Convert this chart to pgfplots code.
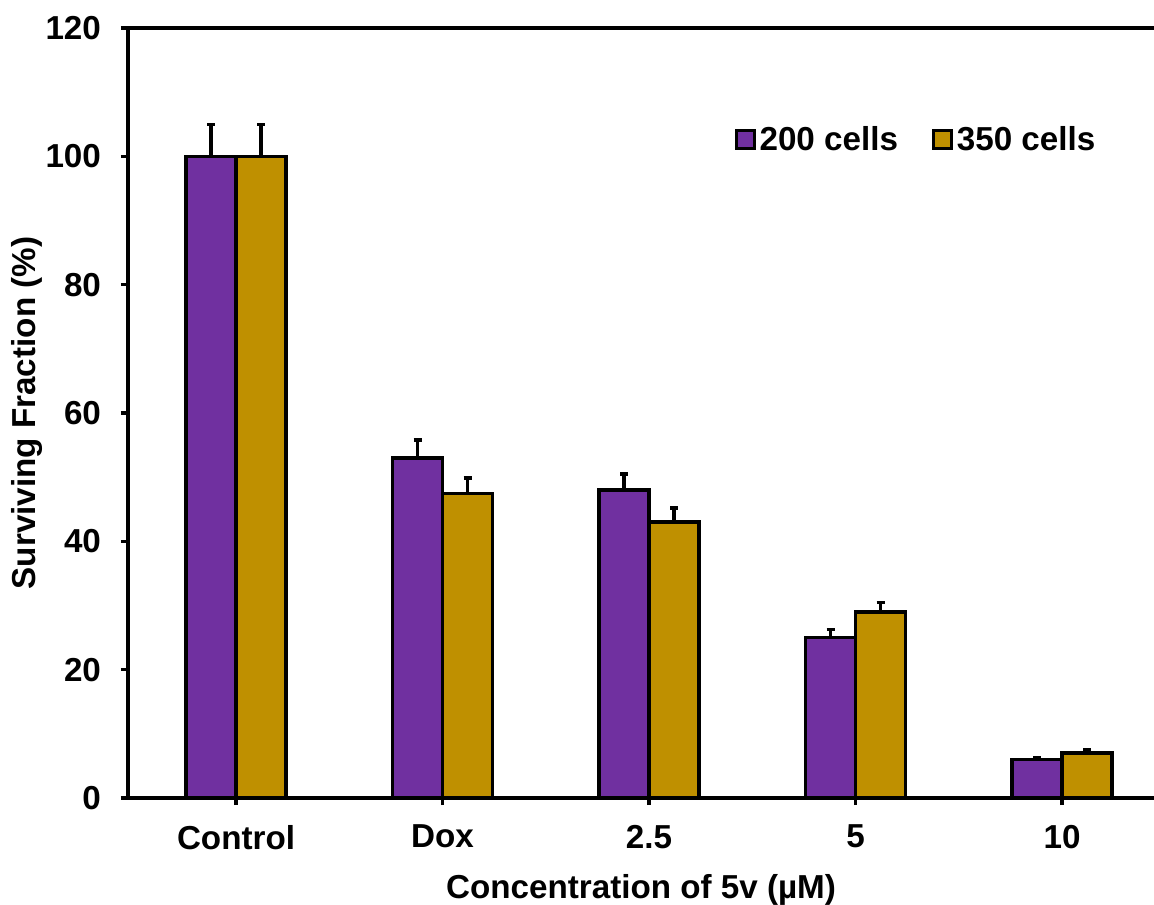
\documentclass[border=0pt]{standalone}
\usepackage{pgfplots}
\pgfplotsset{compat=1.18}
\usepackage{fontspec}
\setmainfont{Liberation Sans}
\definecolor{cpurple}{RGB}{112,48,160}
\definecolor{cgold}{RGB}{191,144,0}
\begin{document}
\begin{tikzpicture}
\begin{axis}[
  scale only axis,
  width=513pt, height=385pt,
  xmin=-0.523, xmax=4.445,
  ymin=0, ymax=120,
  ytick={0,20,...,120},
  xtick={0,1,2,3,4},
  xticklabels={Control,Dox,2.5,5,10},
  axis x line=box,
  axis y line=left,
  x axis line style={-},
  y axis line style={-},
  axis line style={line width=1.7pt, black},
  xtick pos=bottom,
  ytick pos=left,
  tick align=outside,
  major tick length=3.5pt,
  tick style={line width=1.7pt, black},
  /pgf/number format/assume math mode=true,
  tick label style={font=\bfseries\fontsize{16.6}{19}\selectfont},
  xticklabel style={yshift=-6.5pt},
  yticklabel style={xshift=-6.5pt},
  label style={font=\bfseries\fontsize{16.6}{19}\selectfont},
  xlabel={Concentration of 5v (µM)},
  ylabel={Surviving Fraction (\%)},
  xlabel style={yshift=-5.5pt},
  ylabel style={yshift=-5.5pt},
  ybar=0pt,
  bar width=25pt,
  every axis plot/.append style={draw=black, line width=1.7pt},
  error bars/error bar style={line width=1.7pt, black},
  error bars/error mark options={line width=1.7pt, black, mark size=2pt, rotate=90},
  legend columns=2,
  legend style={at={(rel axis cs:0.591,0.855)}, anchor=west, draw=none, fill=none,
    font=\bfseries\fontsize{16.6}{19}\selectfont, inner sep=0pt,
    /tikz/every even column/.append style={column sep=15pt}},
  legend image code/.code={\draw[#1, line width=1.4pt] (0pt,-4.5pt) rectangle (9pt,4.5pt);},
]
\addplot[fill=cpurple, error bars/.cd, y dir=plus, y explicit] coordinates {
  (0,100) +- (0,5)
  (1,53) +- (0,2.8)
  (2,48) +- (0,2.5)
  (3,25) +- (0,1.3)
  (4,6) +- (0,0.3)
};
\addplot[fill=cgold, error bars/.cd, y dir=plus, y explicit] coordinates {
  (0,100) +- (0,5)
  (1,47.5) +- (0,2.4)
  (2,43) +- (0,2.2)
  (3,29) +- (0,1.5)
  (4,7) +- (0,0.5)
};
\legend{200 cells, 350 cells}
\end{axis}
\pgfresetboundingbox
\path (current axis.south west) ++(-64pt,-53pt) rectangle ++(577pt,452pt);
\end{tikzpicture}
\end{document}
